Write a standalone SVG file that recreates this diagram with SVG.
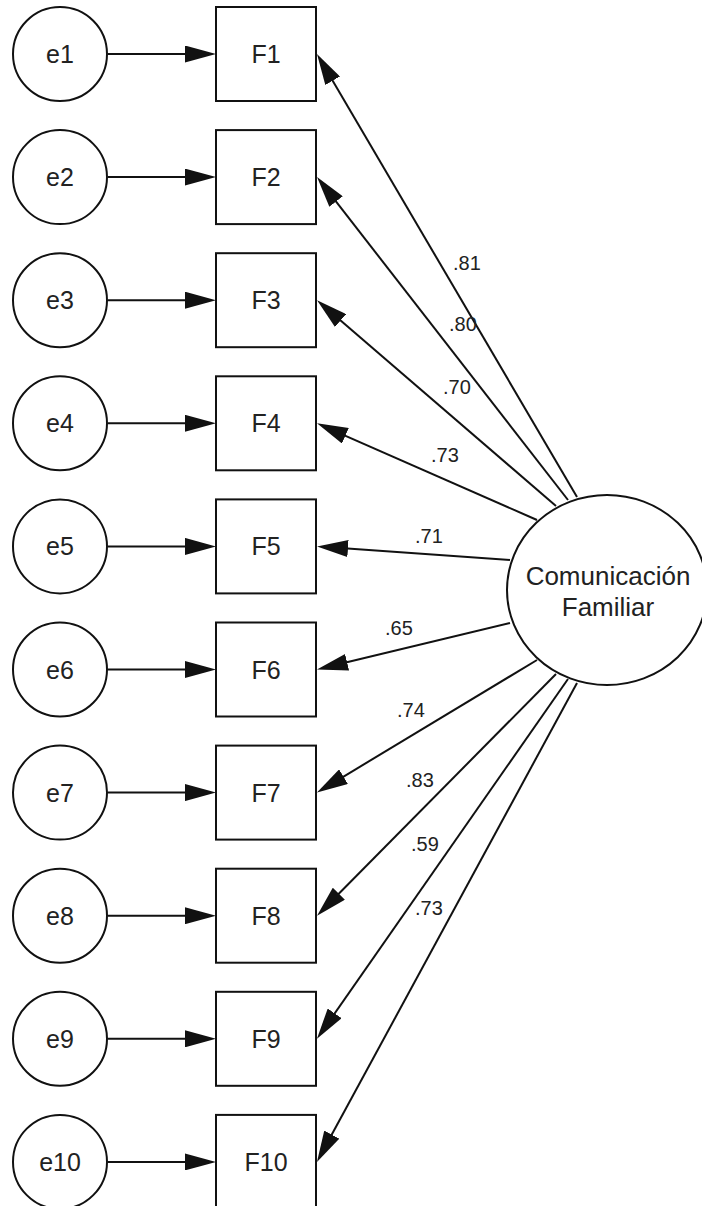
<svg xmlns="http://www.w3.org/2000/svg" width="702" height="1206" viewBox="0 0 702 1206">
<style>
.n{fill:#fff;stroke:#111;stroke-width:2}
.t{font-family:"Liberation Sans",Arial,sans-serif;font-size:25px;fill:#222;text-anchor:middle}
.b{font-family:"Liberation Sans",Arial,sans-serif;font-size:26px;fill:#222;text-anchor:middle}
.c{font-family:"Liberation Sans",Arial,sans-serif;font-size:20px;fill:#222}
.l{stroke:#111;stroke-width:2;fill:none;marker-end:url(#ah)}
</style>
<defs>
<marker id="ah" markerUnits="userSpaceOnUse" markerWidth="32" markerHeight="17" refX="11" refY="8.5" orient="auto" viewBox="0 0 32 17">
<path d="M0,0 L31,8.5 L0,17 z" fill="#111"/>
</marker>
</defs>
<rect width="702" height="1206" fill="#fff"/>
<g id="connectors">
<line class="l" x1="108" y1="54" x2="196" y2="54"/>
<line class="l" x1="108" y1="177.1" x2="196" y2="177.1"/>
<line class="l" x1="108" y1="300.2" x2="196" y2="300.2"/>
<line class="l" x1="108" y1="423.3" x2="196" y2="423.3"/>
<line class="l" x1="108" y1="546.4" x2="196" y2="546.4"/>
<line class="l" x1="108" y1="669.5" x2="196" y2="669.5"/>
<line class="l" x1="108" y1="792.6" x2="196" y2="792.6"/>
<line class="l" x1="108" y1="915.7" x2="196" y2="915.7"/>
<line class="l" x1="108" y1="1038.8" x2="196" y2="1038.8"/>
<line class="l" x1="108" y1="1161.9" x2="196" y2="1161.9"/>
<line class="l" x1="577" y1="497" x2="327.1" y2="71.2"/>
<line class="l" x1="568" y1="500" x2="329.3" y2="192.9"/>
<line class="l" x1="556" y1="506" x2="332.2" y2="313.3"/>
<line class="l" x1="537" y1="520" x2="335.3" y2="431.3"/>
<line class="l" x1="510" y1="560" x2="337.0" y2="547.8"/>
<line class="l" x1="510" y1="623" x2="336.4" y2="664.8"/>
<line class="l" x1="537" y1="660" x2="334.1" y2="782.3"/>
<line class="l" x1="556" y1="674" x2="331.1" y2="901.5"/>
<line class="l" x1="568" y1="679" x2="328.4" y2="1022.4"/>
<line class="l" x1="577" y1="683" x2="326.5" y2="1144.3"/>
<text class="c" x="453" y="270">.81</text>
<text class="c" x="449" y="331">.80</text>
<text class="c" x="443" y="394">.70</text>
<text class="c" x="431" y="462">.73</text>
<text class="c" x="415" y="543">.71</text>
<text class="c" x="385" y="635">.65</text>
<text class="c" x="397" y="717">.74</text>
<text class="c" x="406" y="787">.83</text>
<text class="c" x="411" y="851">.59</text>
<text class="c" x="415" y="915">.73</text>
</g>
<g id="e1"><circle class="n" cx="60" cy="54" r="47"/><text class="t" x="60" y="63">e1</text></g>
<g id="e2"><circle class="n" cx="60" cy="177.1" r="47"/><text class="t" x="60" y="186.1">e2</text></g>
<g id="e3"><circle class="n" cx="60" cy="300.2" r="47"/><text class="t" x="60" y="309.2">e3</text></g>
<g id="e4"><circle class="n" cx="60" cy="423.3" r="47"/><text class="t" x="60" y="432.3">e4</text></g>
<g id="e5"><circle class="n" cx="60" cy="546.4" r="47"/><text class="t" x="60" y="555.4">e5</text></g>
<g id="e6"><circle class="n" cx="60" cy="669.5" r="47"/><text class="t" x="60" y="678.5">e6</text></g>
<g id="e7"><circle class="n" cx="60" cy="792.6" r="47"/><text class="t" x="60" y="801.6">e7</text></g>
<g id="e8"><circle class="n" cx="60" cy="915.7" r="47"/><text class="t" x="60" y="924.7">e8</text></g>
<g id="e9"><circle class="n" cx="60" cy="1038.8" r="47"/><text class="t" x="60" y="1047.8">e9</text></g>
<g id="e10"><circle class="n" cx="60" cy="1161.9" r="47"/><text class="t" x="60" y="1170.9">e10</text></g>
<g id="F1"><rect class="n" x="216" y="7" width="100" height="94"/><text class="t" x="266" y="63">F1</text></g>
<g id="F2"><rect class="n" x="216" y="130.1" width="100" height="94"/><text class="t" x="266" y="186.1">F2</text></g>
<g id="F3"><rect class="n" x="216" y="253.2" width="100" height="94"/><text class="t" x="266" y="309.2">F3</text></g>
<g id="F4"><rect class="n" x="216" y="376.3" width="100" height="94"/><text class="t" x="266" y="432.3">F4</text></g>
<g id="F5"><rect class="n" x="216" y="499.4" width="100" height="94"/><text class="t" x="266" y="555.4">F5</text></g>
<g id="F6"><rect class="n" x="216" y="622.5" width="100" height="94"/><text class="t" x="266" y="678.5">F6</text></g>
<g id="F7"><rect class="n" x="216" y="745.6" width="100" height="94"/><text class="t" x="266" y="801.6">F7</text></g>
<g id="F8"><rect class="n" x="216" y="868.7" width="100" height="94"/><text class="t" x="266" y="924.7">F8</text></g>
<g id="F9"><rect class="n" x="216" y="991.8" width="100" height="94"/><text class="t" x="266" y="1047.8">F9</text></g>
<g id="F10"><rect class="n" x="216" y="1114.9" width="100" height="94"/><text class="t" x="266" y="1170.9">F10</text></g>
<g id="CF"><ellipse class="n" cx="607" cy="590" rx="100" ry="95"/><text class="b" x="608" y="585">Comunicación</text><text class="b" x="608" y="616">Familiar</text></g>
</svg>
